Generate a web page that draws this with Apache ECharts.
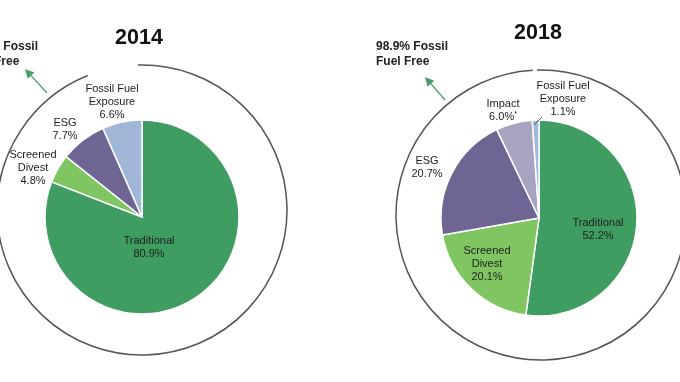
<!DOCTYPE html>
<html>
<head>
<meta charset="utf-8">
<script src="https://cdn.jsdelivr.net/npm/echarts@6/dist/echarts.min.js"></script>
<style>html,body{margin:0;padding:0;background:#fff;}#c{width:680px;height:382px;}</style>
</head>
<body>
<div id="c"></div>
<script>
// ---- data ----
const titles = ['2014', '2018'];
const names2014 = ['Traditional', 'Screened\nDivest', 'ESG', 'Fossil Fuel\nExposure'];
const values2014 = [80.9, 4.8, 7.7, 6.6];
const names2018 = ['Traditional', 'Screened\nDivest', 'ESG', 'Impact', 'Fossil Fuel\nExposure'];
const values2018 = [52.2, 20.1, 20.7, 6.0, 1.1];
const callouts = ['93.4% Fossil\nFuel Free', '98.9% Fossil\nFuel Free'];

// ---- styles / layout ----
const FONT = '"Liberation Sans", Arial, sans-serif';
const colors2014 = ['#3f9d62', '#7fc562', '#6f6594', '#9fb6d7'];
const colors2018 = ['#3f9d62', '#7fc562', '#6f6594', '#a9a3c2', '#9dbbdf'];
const labelPos = [
  [[149, 247.5], [33, 168], [65, 129.5], [112, 101.5]],
  [[598, 229.5], [487, 263.5], [427, 167.5], [503, 110.5], [563, 99]]
];
const titlePos = [[139, 38.5], [538, 33.5]];
const deg = Math.PI / 180;

function mkData(names, values, colors) {
  return names.map((n, i) => ({ name: n, value: values[i], itemStyle: { color: colors[i] } }));
}
function fmt(p) {
  const v = p.value.toFixed(1) + '%';
  if (p.name === 'Impact') return p.name + '\n' + v + '{s|*}';
  return p.name + '\n' + v;
}
function pieSeries(idx, center, radius, data) {
  return {
    type: 'pie', center: center, radius: radius, startAngle: 90, clockwise: true,
    animation: false, silent: true, avoidLabelOverlap: false,
    data: data,
    itemStyle: { borderColor: '#fff', borderWidth: 1.5 },
    label: {
      show: true, position: 'outside', formatter: fmt, color: '#1e1e1e', overflow: 'none',
      fontFamily: FONT, fontSize: 11, lineHeight: 13, align: 'center',
      rich: { s: { fontSize: 7, fontFamily: FONT, color: '#1e1e1e', verticalAlign: 'top', lineHeight: 13 } }
    },
    labelLine: { show: false },
    labelLayout: function (params) {
      const p = labelPos[idx][params.dataIndex];
      return { x: p[0], y: p[1], align: 'center', verticalAlign: 'middle', hideOverlap: false };
    }
  };
}
function arrow(x1, y1, x2, y2) {
  const a = Math.atan2(y2 - y1, x2 - x1);
  const L = 9, W = 4.5;
  const bx = x2 - L * Math.cos(a), by = y2 - L * Math.sin(a);
  return [
    { type: 'line', z: 10, shape: { x1: x1, y1: y1, x2: bx, y2: by }, style: { stroke: '#4b9e6b', lineWidth: 1.3 } },
    { type: 'polygon', z: 10, shape: { points: [[x2, y2], [bx - W * Math.sin(a), by + W * Math.cos(a)], [bx + W * Math.sin(a), by - W * Math.cos(a)]] }, style: { fill: '#4b9e6b' } }
  ];
}

const chart = echarts.init(document.getElementById('c'), null, { renderer: 'canvas' });
chart.setOption({
  backgroundColor: '#fff',
  animation: false,
  series: [
    pieSeries(0, [142, 217], 97, mkData(names2014, values2014, colors2014)),
    pieSeries(1, [539, 218], 98, mkData(names2018, values2018, colors2018))
  ],
  graphic: [
    ...titles.map((t, i) => ({ type: 'text', x: titlePos[i][0], y: titlePos[i][1], style: { text: t, fontFamily: FONT, fontSize: 21.5, fontWeight: 'bold', fill: '#111', align: 'center', verticalAlign: 'middle' } })),
    { type: 'arc', z: -1, shape: { cx: 142, cy: 210, r: 145, startAngle: -91.6 * deg, endAngle: 248 * deg, clockwise: true }, style: { stroke: '#555', lineWidth: 1.5, fill: null } },
    { type: 'arc', z: -1, shape: { cx: 541, cy: 215, r: 145, startAngle: -91.6 * deg, endAngle: 266.8 * deg, clockwise: true }, style: { stroke: '#555', lineWidth: 1.5, fill: null } },
    ...arrow(47, 93, 25, 69),
    ...arrow(445, 100, 425, 77),
    { type: 'text', x: -34, y: 54, style: { text: callouts[0], fontFamily: FONT, fontSize: 12, fontWeight: 'bold', lineHeight: 15, fill: '#222', verticalAlign: 'middle' } },
    { type: 'text', x: 376, y: 54, style: { text: callouts[1], fontFamily: FONT, fontSize: 12, fontWeight: 'bold', lineHeight: 15, fill: '#222', verticalAlign: 'middle' } },
    { type: 'line', z: 100, shape: { x1: 534, y1: 125, x2: 542, y2: 117 }, style: { stroke: '#555', lineWidth: 1 } }
  ]
});
</script>
</body>
</html>
